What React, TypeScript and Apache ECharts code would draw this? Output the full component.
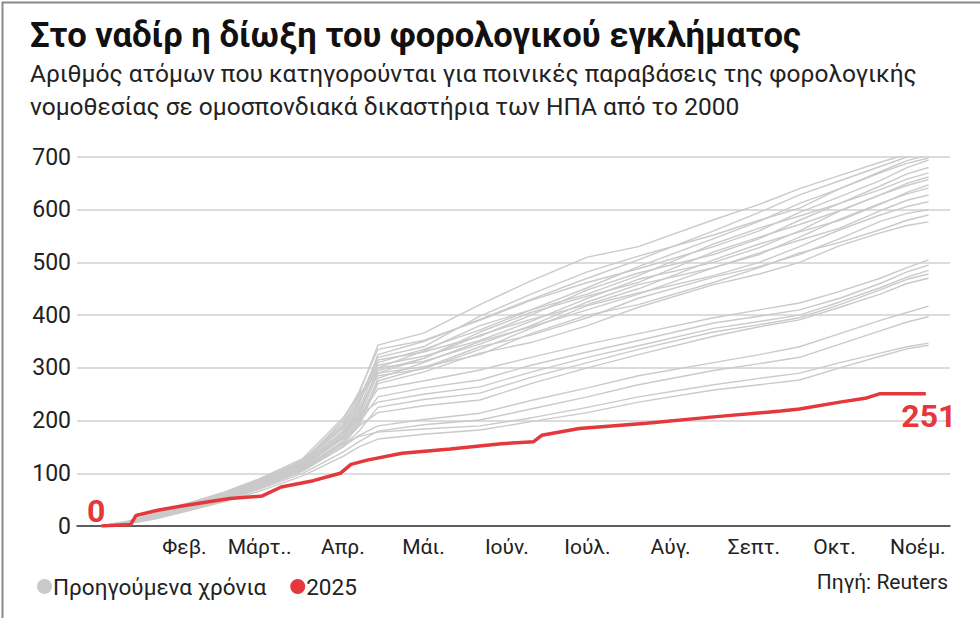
import React, { useEffect, useRef } from "react";
import * as echarts from "echarts";

const TITLE = "Στο ναδίρ η δίωξη του φορολογικού εγκλήματος";
const SUBTITLE_1 = "Αριθμός ατόμων που κατηγορούνται για ποινικές παραβάσεις της φορολογικής";
const SUBTITLE_2 = "νομοθεσίας σε ομοσπονδιακά δικαστήρια των ΗΠΑ από το 2000";
const SOURCE = "Πηγή: Reuters";
const PREV_NAME = "Προηγούμενα χρόνια";
const CUR_NAME = "2025";

// month label positions (day of year at month start)
const monthDays = [31, 59, 90, 120, 151, 181, 212, 243, 273, 304];
const monthLabels = ["Φεβ.", "Μάρτ..", "Απρ.", "Μάι.", "Ιούν.", "Ιούλ.", "Αύγ.", "Σεπτ.", "Οκτ.", "Νοέμ."];

const yTicks = [0, 100, 200, 300, 400, 500, 600, 700];

// sample days (day of year) for previous years
const days = [0, 10, 20, 31, 45, 59, 75, 90, 96, 103, 120, 141, 160, 181, 200, 228, 245, 260, 275, 290, 300, 308];

// previous years (cumulative counts, read approximately)
const y01 = [0, 8, 22, 40, 62, 88, 125, 190, 250, 343, 366, 420, 465, 510, 530, 581, 610, 640, 665, 690, 705, 715];
const y02 = [0, 6, 18, 35, 58, 82, 118, 175, 230, 325, 350, 392, 430, 470, 505, 560, 595, 628, 655, 682, 700, 710];
const y03 = [0, 7, 20, 38, 55, 80, 120, 185, 240, 320, 340, 398, 440, 482, 512, 552, 580, 603, 640, 672, 693, 704];
const y04 = [0, 5, 16, 33, 52, 78, 110, 170, 220, 310, 335, 372, 410, 452, 492, 545, 578, 612, 640, 670, 688, 698];
const y05 = [0, 9, 24, 42, 60, 85, 122, 200, 255, 335, 352, 390, 428, 462, 488, 530, 560, 595, 625, 655, 680, 694];
const y06 = [0, 6, 17, 34, 54, 79, 115, 165, 210, 300, 332, 380, 410, 440, 475, 535, 565, 588, 612, 645, 668, 680];
const y07 = [0, 8, 19, 36, 57, 84, 117, 180, 235, 315, 330, 360, 400, 448, 480, 515, 545, 580, 612, 638, 658, 670];
const y08 = [0, 5, 15, 31, 50, 75, 108, 160, 205, 290, 318, 368, 405, 436, 462, 520, 548, 572, 598, 628, 650, 662];
const y09 = [0, 7, 21, 37, 59, 86, 124, 195, 245, 305, 322, 352, 388, 432, 468, 500, 528, 560, 598, 628, 646, 657];
const y10 = [0, 6, 18, 35, 53, 77, 112, 168, 215, 295, 318, 362, 392, 420, 450, 505, 535, 558, 580, 610, 633, 647];
const y11 = [0, 8, 20, 39, 61, 87, 121, 188, 238, 300, 312, 345, 380, 425, 458, 490, 515, 548, 582, 612, 630, 641];
const y12 = [0, 5, 14, 30, 49, 72, 105, 150, 195, 280, 310, 350, 378, 410, 440, 490, 518, 542, 565, 598, 618, 628];
const y13 = [0, 7, 19, 36, 56, 81, 116, 172, 225, 285, 298, 335, 375, 418, 442, 475, 500, 530, 562, 590, 606, 615];
const y14 = [0, 6, 17, 33, 51, 76, 109, 158, 200, 275, 300, 340, 362, 395, 432, 472, 492, 515, 545, 578, 593, 600];
const y15 = [0, 9, 23, 41, 63, 90, 128, 205, 250, 290, 302, 325, 365, 400, 420, 462, 490, 518, 538, 562, 580, 590];
const y16 = [0, 5, 16, 32, 50, 74, 107, 155, 190, 270, 292, 328, 348, 380, 415, 458, 478, 500, 532, 556, 570, 577];
const y17 = [0, 7, 18, 34, 54, 80, 115, 170, 205, 260, 275, 296, 320, 345, 365, 395, 410, 423, 445, 470, 490, 505];
const y18 = [0, 6, 16, 32, 52, 76, 110, 160, 195, 245, 262, 277, 305, 330, 352, 385, 398, 410, 432, 460, 482, 495];
const y19 = [0, 8, 21, 38, 58, 83, 119, 178, 210, 235, 250, 264, 292, 320, 342, 375, 388, 400, 425, 452, 472, 485];
const y20 = [0, 5, 15, 30, 48, 72, 104, 150, 180, 225, 240, 252, 282, 310, 335, 368, 382, 395, 420, 448, 468, 478];
const y21 = [0, 7, 19, 35, 55, 79, 113, 165, 190, 215, 228, 239, 270, 300, 325, 360, 378, 391, 415, 440, 460, 470];
const y22 = [0, 6, 17, 31, 50, 74, 106, 150, 172, 190, 202, 214, 238, 262, 285, 310, 325, 340, 365, 390, 405, 417];
const y23 = [0, 5, 15, 29, 47, 70, 100, 140, 160, 180, 192, 201, 222, 245, 268, 295, 308, 320, 345, 370, 387, 397];
const y24 = [0, 7, 18, 33, 52, 77, 110, 155, 170, 178, 184, 190, 205, 225, 245, 268, 280, 290, 310, 328, 340, 347];
const y25 = [0, 4, 13, 27, 45, 66, 95, 132, 150, 165, 174, 182, 198, 215, 235, 258, 268, 277, 300, 322, 336, 343];

const previousYears = [y01, y02, y03, y04, y05, y06, y07, y08, y09, y10, y11, y12, y13, y14, y15, y16, y17, y18, y19, y20, y21, y22, y23, y24, y25];

// 2025
const days2025 = [0, 11, 13, 21, 30, 40, 48, 60, 67, 79, 89, 93, 99, 112, 130, 149, 161, 164, 178, 203, 228, 253, 260, 275, 285, 290, 307];
const values2025 = [0, 3, 20, 30, 38, 46, 52, 57, 74, 86, 100, 117, 125, 138, 146, 156, 160, 172, 185, 195, 207, 218, 222, 235, 243, 251, 251];

const GRAY = "#cacaca";
const RED = "#e5383d";
const FONT = "Roboto, 'Noto Sans', sans-serif";

export default function App() {
  const ref = useRef<HTMLDivElement>(null);
  useEffect(() => {
    if (!ref.current) return;
    const chart = echarts.init(ref.current, null, { renderer: "svg" });

    const graySeries = previousYears.map((arr) => ({
      type: "line",
      name: PREV_NAME,
      data: days.map((d, i) => [d, arr[i]]),
      symbol: "none",
      silent: true,
      lineStyle: { color: GRAY, width: 1.4 },
      itemStyle: { color: GRAY },
      z: 2,
    }));

    const last = days2025.length - 1;
    const endPoints = [
      {
        value: [days2025[0], values2025[0]],
        label: { position: "top", offset: [-5, 6] },
      },
      {
        value: [days2025[last], values2025[last]],
        label: { position: "bottom", distance: 6, offset: [3, 0] },
      },
    ];

    chart.setOption({
      animation: false,
      backgroundColor: "#ffffff",
      textStyle: { fontFamily: FONT },
      grid: { left: 77, right: 30, top: 157, bottom: 92, containLabel: false },
      xAxis: {
        type: "value",
        min: -9,
        max: 316,
        axisLine: { show: true, lineStyle: { color: "#333", width: 1.5 } },
        axisTick: { show: false },
        splitLine: { show: false },
        axisLabel: {
          customValues: monthDays,
          formatter: (v: number) => {
            const idx = monthDays.indexOf(v);
            return idx >= 0 ? monthLabels[idx] : "";
          },
          color: "#222",
          fontSize: 21,
          margin: 10,
          fontFamily: FONT,
        },
      },
      yAxis: {
        type: "value",
        min: 0,
        max: 700,
        interval: 100,
        axisLine: { show: false },
        axisTick: { show: false },
        splitLine: { lineStyle: { color: "#d0d0d0", width: 1.5 } },
        axisLabel: {
          color: "#222",
          fontSize: 23,
          margin: 6,
          fontFamily: FONT,
          formatter: (v: number) => (yTicks.includes(v) ? String(v) : ""),
        },
      },
      legend: {
        left: 32,
        top: 570,
        icon: "circle",
        itemWidth: 15,
        itemHeight: 15,
        itemGap: 24,
        data: [PREV_NAME, CUR_NAME],
        textStyle: { fontSize: 22.5, color: "#222", fontFamily: FONT, padding: [0, 0, 0, -4] },
        selectedMode: false,
      },
      series: [
        ...graySeries,
        {
          type: "line",
          name: CUR_NAME,
          data: days2025.map((d, i) => [d, values2025[i]]),
          symbol: "none",
          lineStyle: { color: RED, width: 3.5 },
          itemStyle: { color: RED },
          z: 5,
        },
        {
          type: "scatter",
          name: "labels",
          data: endPoints,
          symbolSize: 0,
          silent: true,
          z: 6,
          itemStyle: { color: RED, opacity: 1 },
          label: {
            show: true,
            color: RED,
            opacity: 1,
            fontSize: 32,
            fontWeight: "bold",
            fontFamily: FONT,
            formatter: (p: any) => String(p.value[1]),
          },
        },
      ],
      graphic: [
        {
          type: "rect",
          left: 0,
          top: 0,
          shape: { width: 979, height: 617 },
          style: { fill: "none", stroke: "#8a8a8a", lineWidth: 2 },
          silent: true,
        },
        {
          type: "text",
          left: 30,
          top: 17,
          style: { text: TITLE, fontSize: 34.6, fontWeight: "bold", fill: "#111", fontFamily: FONT },
        },
        {
          type: "text",
          left: 30,
          top: 61,
          style: { text: SUBTITLE_1, fontSize: 24.5, fill: "#222", fontFamily: FONT },
        },
        {
          type: "text",
          left: 30,
          top: 94,
          style: { text: SUBTITLE_2, fontSize: 24.5, fill: "#222", fontFamily: FONT },
        },
        {
          type: "text",
          right: 32,
          top: 571,
          style: { text: SOURCE, fontSize: 21, fill: "#222", fontFamily: FONT },
        },
      ],
    });
    return () => chart.dispose();
  }, []);
  return (
    <div
      ref={ref}
      style={{ position: "fixed", left: 0, top: 0, width: 980, height: 618 }}
    />
  );
}
